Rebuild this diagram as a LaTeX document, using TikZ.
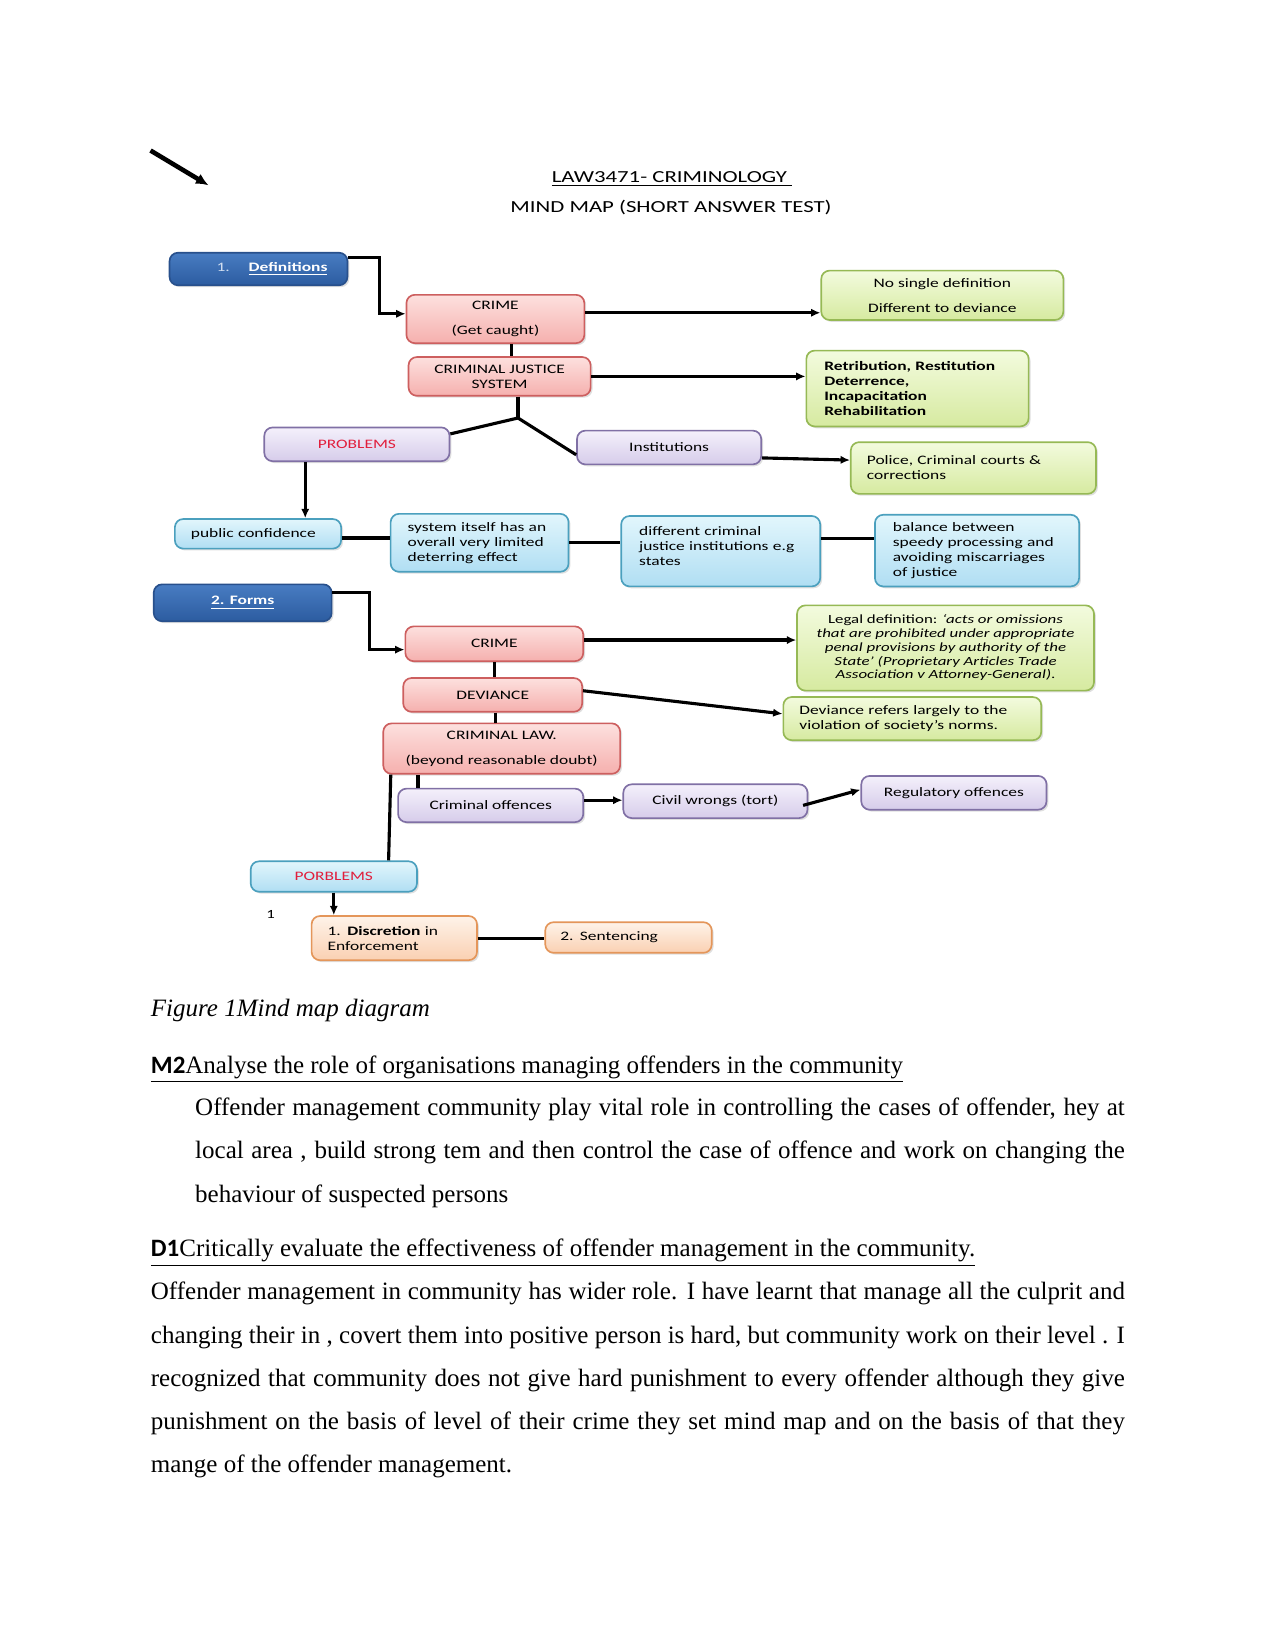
\documentclass[tikz,border=0pt]{standalone}
\usepackage{fontspec}
\setmainfont{Liberation Serif}
\newfontfamily\mapfont{Carlito}[FakeStretch=1.35]
\newfontfamily\headfont{Carlito}
\usetikzlibrary{arrows.meta,shadows}

\definecolor{hdtop}{RGB}{72,124,194}
\definecolor{hdbot}{RGB}{44,92,160}
\definecolor{hdline}{RGB}{40,80,140}
\definecolor{pinktop}{RGB}{253,224,222}
\definecolor{pinkbot}{RGB}{245,176,174}
\definecolor{pinkline}{RGB}{205,95,95}
\definecolor{greentop}{RGB}{243,251,222}
\definecolor{greenbot}{RGB}{214,234,160}
\definecolor{greenline}{RGB}{150,185,85}
\definecolor{lilactop}{RGB}{244,240,251}
\definecolor{lilacbot}{RGB}{214,204,234}
\definecolor{lilacline}{RGB}{128,112,165}
\definecolor{cyantop}{RGB}{226,246,252}
\definecolor{cyanbot}{RGB}{176,222,243}
\definecolor{cyanline}{RGB}{75,160,190}
\definecolor{peachtop}{RGB}{254,243,233}
\definecolor{peachbot}{RGB}{250,208,178}
\definecolor{peachline}{RGB}{228,150,90}
\definecolor{probred}{RGB}{225,30,60}

\begin{document}
\begin{tikzpicture}[x=0.48pt, y=-0.48pt,
    box/.style={rounded corners=4pt, line width=0.8pt, inner sep=0pt, align=center,
      font=\mapfont\fontsize{6.2}{7.2}\selectfont,
      drop shadow={shadow xshift=0.9pt, shadow yshift=-0.9pt, opacity=0.25}},
    sz/.style 2 args={minimum width=#1, minimum height=#2},
    lefttext/.style={align=left, text width=#1},
    heavy/.style={font=\mapfont\fontsize{6.2}{7.2}\selectfont\bfseries},
    hdbox/.style={box, draw=hdline, top color=hdtop, bottom color=hdbot, text=white, heavy},
    crimebox/.style={box, draw=pinkline, top color=pinktop, bottom color=pinkbot},
    notebox/.style={box, draw=greenline, top color=greentop, bottom color=greenbot},
    lilacbox/.style={box, draw=lilacline, top color=lilactop, bottom color=lilacbot},
    cyanbox/.style={box, draw=cyanline, top color=cyantop, bottom color=cyanbot},
    peachbox/.style={box, draw=peachline, top color=peachtop, bottom color=peachbot},
    conn/.style={line width=1.5pt},
    arr/.style={conn, -{Latex[length=4.5pt, width=4pt]}},
    titletxt/.style={font=\mapfont\fontsize{8.1}{9.7}\selectfont, inner sep=0pt},
    pagenum/.style={font=\mapfont\fontsize{6}{7}\selectfont, inner sep=0pt},
    bodyline/.style={font=\fontsize{12}{14.4}\selectfont, anchor=base west, inner sep=0pt},
  ]
    \fill[white] (0,0) rectangle (1275,1651);
    \useasboundingbox (0,0) rectangle (1275,1651);

    % stray arrow and title
    \coordinate (arrA) at (150.5,150.5);
    \coordinate (arrB) at (208.5,185.3);
    \draw[line width=2.2pt, -{Latex[length=6pt, width=5.5pt]}] (arrA) -- (arrB);
    \node[titletxt] (title) at (672,179) {\underline{LAW3471- CRIMINOLOGY\ }};
    \node[titletxt] (subtitle) at (671,207) {MIND MAP (SHORT ANSWER TEST)};

    % 1. definitions
    \node[hdbox, sz={85.4pt}{15.6pt}, align=right, text width=66.2pt] (defs) at (258.5,269)
      {{\mdseries\color{white!75!hdtop}1.}\hspace{9pt}\underline{Definitions}};
    \node[crimebox, sz={85.4pt}{23.2pt}] (crime) at (495.4,319) {CRIME\\[4.8pt](Get caught)};
    \node[notebox, sz={116.2pt}{23.7pt}] (nodef) at (942.3,295.3) {No single definition\\[5pt]Different to deviance};
    \node[crimebox, sz={87.4pt}{18.6pt}] (cjs) at (499.6,376.4) {CRIMINAL JUSTICE\\SYSTEM};
    \node[notebox, sz={106.7pt}{36.4pt}, lefttext=89.5pt, heavy] (aims) at (917.5,388.5)
      {Retribution, Restitution\\Deterrence,\\Incapacitation\\Rehabilitation};
    \coordinate (jn) at (518,418);
    \node[lilacbox, sz={88.9pt}{16.2pt}, text=probred] (problems) at (356.9,444.3) {PROBLEMS};
    \node[lilacbox, sz={88.4pt}{16.2pt}] (inst) at (669.1,447.5) {Institutions};
    \node[notebox, sz={117.7pt}{24.8pt}, lefttext=102.3pt] (police) at (973.4,468) {Police, Criminal courts \&\\corrections};
    \node[cyanbox, sz={79.8pt}{14.2pt}, lefttext=64.4pt] (pubconf) at (258,533.8) {public confidence};
    \node[cyanbox, sz={85.4pt}{27.8pt}, lefttext=69pt] (selfdeter) at (479.6,542.8) {system itself has an\\overall very limited\\deterring effect};
    \node[cyanbox, sz={95.5pt}{33.8pt}, lefttext=78.3pt] (diffcj) at (720.7,551.2) {different criminal\\justice institutions e.g\\states\\[-2pt]~};
    \node[cyanbox, sz={98pt}{34.4pt}, lefttext=80.8pt] (balance) at (977,550.6) {balance between\\speedy processing and\\avoiding miscarriages\\of justice};

    \draw[arr] ([yshift=-2.5pt]defs.north east) -- ++(31.6,0) |- ([yshift=2.5pt]crime.west);
    \draw[arr] ([yshift=3pt]crime.east) -- ([yshift=3pt]crime.east -| nodef.west);
    \draw[conn] ([xshift=7.8pt]crime.south) -- ([xshift=7.8pt]crime.south |- cjs.north);
    \draw[arr] (cjs.east) -- (cjs.east -| aims.west);
    \draw[conn] (cjs.south -| jn) -- (jn);
    \draw[conn] (jn) -- ([yshift=5pt]problems.east);
    \draw[conn] (jn) -- ([yshift=-3.5pt]inst.west);
    \draw[arr] ([yshift=-5pt]inst.east) -- ([yshift=3.8pt]police.west);
    \draw[arr] ([xshift=-24.8pt]problems.south) -- ([xshift=-24.8pt]problems.south |- pubconf.north);
    \draw[conn] ([yshift=-2pt]pubconf.east) -- ([yshift=-2pt]pubconf.east -| selfdeter.west);
    \draw[conn] (selfdeter.east) -- (selfdeter.east -| diffcj.west);
    \draw[conn] ([yshift=6.3pt]diffcj.east) -- ([yshift=6.3pt]diffcj.east -| balance.west);

    % 2. forms
    \node[hdbox, sz={85.4pt}{17.7pt}] (forms) at (242.7,602.8) {\underline{2. Forms}};
    \node[crimebox, sz={85.4pt}{16.7pt}] (crime2) at (494.3,643.8) {CRIME};
    \node[notebox, sz={142.5pt}{40.9pt}, font=\mapfont\fontsize{6}{6.6}\selectfont] (legal) at (945.5,648)
      {Legal definition: \textit{‘acts or omissions}\\
       \textit{that are prohibited under appropriate}\\
       \textit{penal provisions by authority of the}\\
       \textit{State’ (Proprietary Articles Trade}\\
       \textit{Association v Attorney-General)}.};
    \node[crimebox, sz={85.9pt}{16.2pt}] (deviance) at (492.7,694.9) {DEVIANCE};
    \node[notebox, sz={123.8pt}{20.7pt}, lefttext=108.4pt] (devref) at (912.3,718.6) {Deviance refers largely to the\\violation of society’s norms.};
    \node[crimebox, sz={113.7pt}{24.2pt}] (crimlaw) at (501.7,748.6) {CRIMINAL LAW.\\[4.8pt](beyond reasonable doubt)};
    \node[lilacbox, sz={88.9pt}{16.1pt}] (crimoff) at (490.7,805.4) {Criminal offences};
    \node[lilacbox, sz={88.4pt}{16.2pt}] (civil) at (715.4,801.2) {Civil wrongs (tort)};
    \node[lilacbox, sz={88.9pt}{16.2pt}] (regul) at (953.9,792.8) {Regulatory offences};
    \node[cyanbox, sz={79.8pt}{14.6pt}, text=probred] (porblems) at (333.8,876.5) {PORBLEMS};
    \node[pagenum] (pnum) at (270.6,914.9) {1};
    \node[peachbox, sz={79.4pt}{21.2pt}, lefttext=64pt] (discr) at (394.3,938.1) {1. \textbf{Discretion} in\\Enforcement};
    \node[peachbox, sz={79.9pt}{14.7pt}, lefttext=65.5pt] (sent) at (628.5,937.5) {2. Sentencing};

    \draw[arr] ([yshift=-4.5pt]forms.north east) -- ++(36.9,0) |- ([yshift=-2.8pt]crime2.west);
    \draw[arr] ([yshift=1.8pt]crime2.east) -- ([yshift=1.8pt]crime2.east -| legal.west);
    \draw[conn] (crime2.south) -- (crime2.south |- deviance.north);
    \draw[arr] ([yshift=2pt]deviance.east) -- ([yshift=2.3pt]devref.west);
    \draw[conn] ([xshift=1.5pt]deviance.south) -- ([xshift=1.5pt]deviance.south |- crimlaw.north);
    \draw[conn] ([xshift=-34.9pt]crimoff.north) -- ([xshift=-34.9pt]crimoff.north |- crimlaw.south);
    \draw[conn] ([xshift=4pt]crimlaw.south west) -- ([xshift=26.3pt]porblems.north);
    \draw[arr] ([yshift=2.5pt]crimoff.east) -- ([yshift=2.5pt]crimoff.east -| civil.west);
    \draw[arr] ([xshift=-2.5pt, yshift=-2pt]civil.east) -- ([yshift=1.5pt]regul.west);
    \draw[arr] (porblems.south) -- (porblems.south |- discr.north);
    \draw[conn] (discr.east) -- (discr.east -| sent.west);

    % caption and text below the map
    \node[bodyline] (caption) at (150.5,1016) {\textit{Figure 1Mind map diagram}};
    \node[bodyline] (m2head) at (150.5,1073.5)
      {\underline{{\headfont\bfseries M2}Analyse the role of organisations managing offenders in the community}};
    \foreach \n/\yy/\ltext in {
        a/1115.6/{Offender management community play vital role in controlling the cases of offender, hey at},
        b/1158.8/{local area , build strong tem and then control the case of offence and work on changing the}} {
      \node[bodyline] (m2\n) at (194.8,\yy) {\makebox[446.2pt][s]{\ltext}};
    }
    \node[bodyline] (m2c) at (194.8,1202) {behaviour of suspected persons};
    \node[bodyline] (d1head) at (150.5,1256.7)
      {\underline{{\headfont\bfseries D1}Critically evaluate the effectiveness of offender management in the community.}};
    \foreach \n/\yy/\ltext in {
        a/1299.9/{Offender management in community has wider role. I have learnt that manage all the culprit and},
        b/1343/{changing their in , covert them into positive person is hard, but community work on their level . I},
        c/1386.2/{recognized that community does not give hard punishment to every offender although they give},
        d/1429.3/{punishment on the basis of level of their crime they set mind map and on the basis of that they}} {
      \node[bodyline] (d1\n) at (150.5,\yy) {\makebox[467.5pt][s]{\ltext}};
    }
    \node[bodyline] (d1e) at (150.5,1472.5) {mange of the offender management.};
  \end{tikzpicture}
\end{document}
